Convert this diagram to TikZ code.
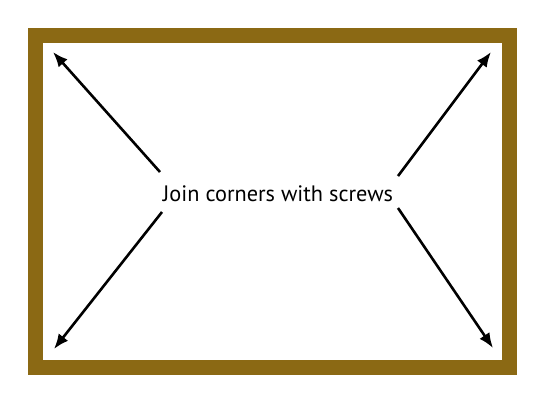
\documentclass[tikz,border=0pt]{standalone}
\usepackage{fontspec}
\setmainfont{PT Sans}
\usetikzlibrary{arrows.meta}
\definecolor{framebrown}{RGB}{139,105,20}
\tikzset{
  screwarrow/.style={line width=2.6pt, -{Latex[length=15pt,width=12pt]}},
}
\begin{document}
\begin{tikzpicture}[x=1pt,y=-1pt]
            \useasboundingbox (0,0) rectangle (544,400);
            {\fontsize{22.3}{26}\selectfont

            % Drawing the frame
            \draw [framebrown, line width=15pt] (35,35) rectangle (509,367);%

            % Placing the label
            \node (label) at (278,194) {Join corners with screws};%

            % Marking arrow ends
            \coordinate (tl) at (160,172);%
            \coordinate (tr) at (398,176);%
            \coordinate (bl) at (162,212);%
            \coordinate (br) at (398,208);%
            \coordinate (A) at (53,52);%
            \coordinate (B) at (491,52);%
            \coordinate (C) at (54,349);%
            \coordinate (D) at (493,348);%

            % Drawing arrows to the corners
            \draw [screwarrow] (tl) -- (A);%
            \draw [screwarrow] (tr) -- (B);%
            \draw [screwarrow] (bl) -- (C);%
            \draw [screwarrow] (br) -- (D);%

            }
        \end{tikzpicture}
\end{document}
